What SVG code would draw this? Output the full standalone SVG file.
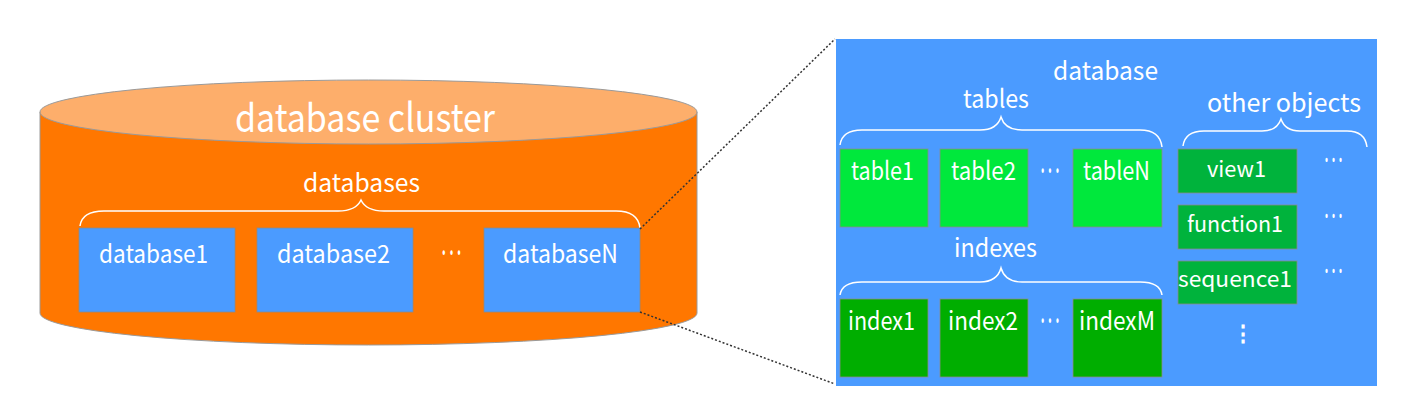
<svg xmlns="http://www.w3.org/2000/svg" width="1401" height="414" viewBox="0 0 1401 414">
<style>
text{font-family:"Noto Sans CJK KR","Noto Sans","Liberation Sans",sans-serif;fill:#ffffff;}
.edge{stroke:#9a9a9a;stroke-width:1;}
.db{fill:#4b9bff;stroke:#8a8a8a;stroke-width:0.8;}
.tbl{fill:#00e83c;stroke:#8a8a8a;stroke-width:0.8;}
.idx{fill:#00ae00;stroke:#8a8a8a;stroke-width:0.8;}
.obj{fill:#00b33c;stroke:#8a8a8a;stroke-width:0.8;}
.brace{fill:none;stroke:#ffffff;stroke-width:1.5;}
.dash{fill:none;stroke:#333333;stroke-width:1.5;stroke-dasharray:2 2;}
.t25{font-size:25px;}
.t22{font-size:22px;}
.dots{font-weight:700;}
</style>
<rect width="1401" height="414" fill="#ffffff"/>
<g id="cluster">
<path class="edge" d="M40,112 L40,313 A328.5,32 0 0 0 697,313 L697,112 Z" fill="#ff7700"/>
<ellipse class="edge" cx="368.5" cy="112" rx="328.5" ry="32" fill="#fdae6b"/>
<text x="235" y="132" font-size="39" textLength="260" lengthAdjust="spacingAndGlyphs">database cluster</text>
<text class="t25" x="303" y="192" textLength="117" lengthAdjust="spacingAndGlyphs">databases</text>
<path class="brace" d="M80,226 Q82,211 104,211 L338,211 Q356,211 361,200 Q366,211 384,211 L616,211 Q638,211 640,228"/>
</g>
<g id="database1">
<rect class="db" x="79" y="228" width="156" height="84"/>
<text class="t25" x="99" y="263" textLength="109" lengthAdjust="spacingAndGlyphs">database1</text>
</g>
<g id="database2">
<rect class="db" x="257" y="228" width="156" height="84"/>
<text class="t25" x="277" y="263" textLength="113" lengthAdjust="spacingAndGlyphs">database2</text>
</g>
<text class="t25 dots" x="440" y="262" textLength="23" lengthAdjust="spacingAndGlyphs">···</text>
<g id="databaseN">
<rect class="db" x="484" y="228" width="156" height="84"/>
<text class="t25" x="503" y="263" textLength="115" lengthAdjust="spacingAndGlyphs">databaseN</text>
</g>
<g id="database">
<rect x="836" y="39" width="541" height="347" fill="#4b9bff"/>
<text class="t25" x="1053" y="80" textLength="105" lengthAdjust="spacingAndGlyphs">database</text>
<text class="t25" x="963" y="108" textLength="66" lengthAdjust="spacingAndGlyphs">tables</text>
<path class="brace" d="M840,145 Q842,130 862,130 L980,130 Q997,130 1001,117 Q1005,130 1022,130 L1140,130 Q1160,130 1162,147"/>
<text class="t25" x="954" y="257" textLength="83" lengthAdjust="spacingAndGlyphs">indexes</text>
<path class="brace" d="M840,295 Q842,282 862,282 L980,282 Q997,282 1001,268 Q1005,282 1022,282 L1140,282 Q1160,282 1162,295"/>
<text class="t25" x="1207" y="112" textLength="154" lengthAdjust="spacingAndGlyphs">other objects</text>
<path class="brace" d="M1183,146 Q1185,131 1204,131 L1262,131 Q1277,131 1281,119 Q1285,131 1300,131 L1347,131 Q1365,131 1367,147"/>
</g>
<g id="table1">
<rect class="tbl" x="840" y="149" width="88" height="78"/>
<text class="t25" x="851" y="180" textLength="63" lengthAdjust="spacingAndGlyphs">table1</text>
</g>
<g id="table2">
<rect class="tbl" x="940" y="149" width="88" height="78"/>
<text class="t25" x="951" y="180" textLength="65" lengthAdjust="spacingAndGlyphs">table2</text>
</g>
<text class="t25 dots" x="1039" y="180" textLength="22" lengthAdjust="spacingAndGlyphs">···</text>
<g id="tableN">
<rect class="tbl" x="1073" y="149" width="89" height="78"/>
<text class="t25" x="1083" y="180" textLength="67" lengthAdjust="spacingAndGlyphs">tableN</text>
</g>
<g id="index1">
<rect class="idx" x="840" y="299" width="88" height="78"/>
<text class="t25" x="848" y="330" textLength="67" lengthAdjust="spacingAndGlyphs">index1</text>
</g>
<g id="index2">
<rect class="idx" x="940" y="299" width="88" height="78"/>
<text class="t25" x="948" y="330" textLength="70" lengthAdjust="spacingAndGlyphs">index2</text>
</g>
<text class="t25 dots" x="1039" y="330" textLength="22" lengthAdjust="spacingAndGlyphs">···</text>
<g id="indexM">
<rect class="idx" x="1073" y="299" width="89" height="78"/>
<text class="t25" x="1079" y="330" textLength="76" lengthAdjust="spacingAndGlyphs">indexM</text>
</g>
<g id="view1">
<rect class="obj" x="1178" y="149" width="119" height="44"/>
<text class="t22" x="1207" y="177" textLength="59" lengthAdjust="spacingAndGlyphs">view1</text>
</g>
<g id="function1">
<rect class="obj" x="1178" y="205" width="119" height="44"/>
<text class="t22" x="1187" y="232" textLength="96" lengthAdjust="spacingAndGlyphs">function1</text>
</g>
<g id="sequence1">
<rect class="obj" x="1178" y="261" width="119" height="43"/>
<text class="t22" x="1178" y="287" textLength="114" lengthAdjust="spacingAndGlyphs">sequence1</text>
</g>
<text class="t22 dots" x="1323" y="168" textLength="21" lengthAdjust="spacingAndGlyphs">···</text>
<text class="t22 dots" x="1323" y="224" textLength="21" lengthAdjust="spacingAndGlyphs">···</text>
<text class="t22 dots" x="1323" y="279" textLength="21" lengthAdjust="spacingAndGlyphs">···</text>
<text class="t22 dots" x="1243" y="341" text-anchor="middle">⋮</text>
<g id="connectors">
<line class="dash" x1="640" y1="229" x2="835" y2="39"/>
<line class="dash" x1="640" y1="312" x2="835" y2="384"/>
</g>
</svg>
